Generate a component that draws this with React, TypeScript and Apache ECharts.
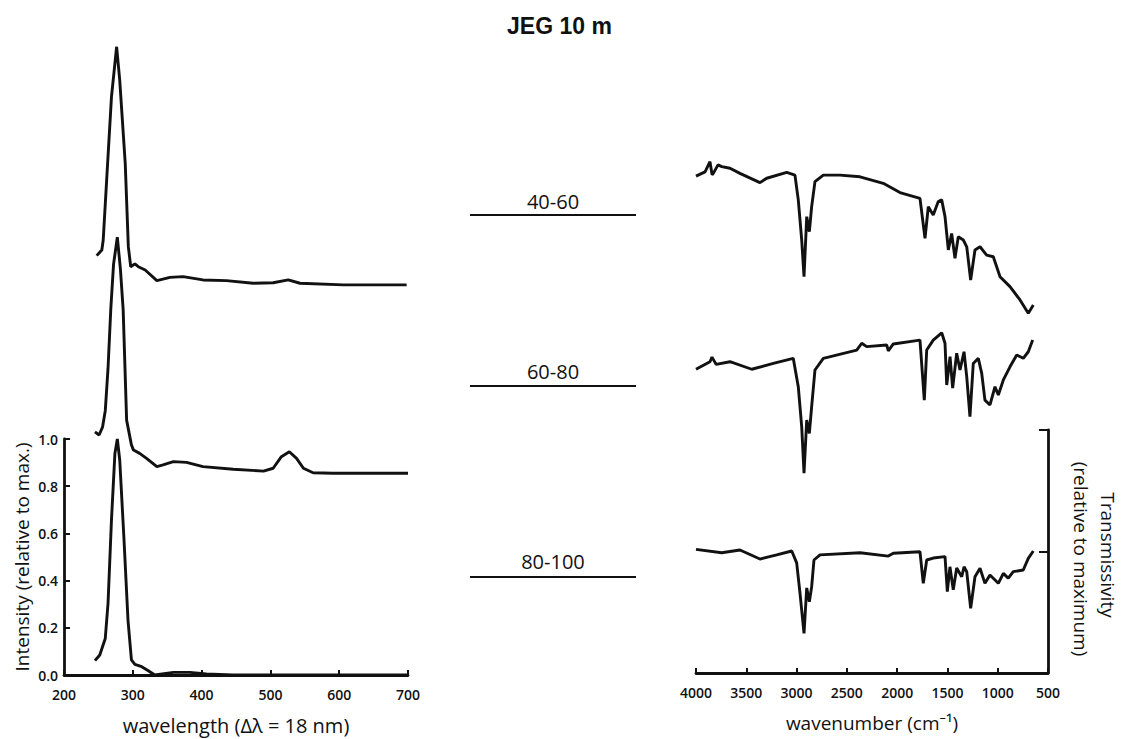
import React, { useEffect, useRef } from "react";
import * as echarts from "echarts";

// ---------- Fluorescence spectra (left panel), plotted with vertical offsets ----------
const flWl4060 = [247.5, 255, 257, 262, 269, 276.5, 281, 289, 293.5, 297, 303, 308, 318, 335, 354, 373, 402, 436, 475, 504, 526, 543, 606, 698];
const flVal4060 = [1.777, 1.801, 1.843, 2.097, 2.45, 2.662, 2.521, 2.168, 1.815, 1.73, 1.742, 1.73, 1.716, 1.671, 1.685, 1.688, 1.674, 1.671, 1.66, 1.662, 1.674, 1.66, 1.653, 1.653];

const flWl6080 = [245, 251, 256, 260, 264, 268, 272, 277.5, 282, 286, 291, 298, 301, 310, 320, 335, 344, 359, 378, 402, 446, 490, 504, 516, 527.5, 538, 548, 562, 591, 700];
const flVal6080 = [1.03, 1.017, 1.05, 1.12, 1.3, 1.55, 1.74, 1.855, 1.72, 1.547, 1.08, 0.975, 0.953, 0.939, 0.918, 0.883, 0.89, 0.904, 0.901, 0.883, 0.872, 0.864, 0.876, 0.925, 0.946, 0.918, 0.876, 0.857, 0.855, 0.855];

const flWl80100 = [245, 252, 260, 264, 269, 274, 277.5, 281, 287, 293, 298, 303, 313, 322.5, 332, 359, 383, 407, 445, 500, 600, 700];
const flVal80100 = [0.061, 0.085, 0.155, 0.304, 0.657, 0.939, 1.0, 0.911, 0.586, 0.233, 0.064, 0.045, 0.035, 0.018, 0.0, 0.011, 0.011, 0.004, 0.0, 0.0, 0.0, 0.0];

// ---------- IR spectra (right panel), plotted with vertical offsets ----------
const irWn4060 = [4000, 3910, 3861, 3840, 3828, 3781, 3744, 3662, 3563, 3364, 3297, 3098, 3016, 2983, 2949, 2926, 2899, 2873, 2850, 2817, 2734, 2568, 2369, 2138, 1972, 1773, 1723, 1690, 1641, 1591, 1557, 1524, 1491, 1458, 1425, 1392, 1342, 1308, 1269, 1226, 1176, 1110, 1044, 977, 878, 778, 696, 646];
const irVal4060 = [2.045, 2.062, 2.104, 2.05, 2.056, 2.091, 2.084, 2.077, 2.056, 2.018, 2.036, 2.06, 2.049, 1.947, 1.782, 1.631, 1.878, 1.816, 1.919, 2.022, 2.049, 2.049, 2.042, 2.015, 1.977, 1.953, 1.789, 1.919, 1.885, 1.94, 1.947, 1.878, 1.741, 1.809, 1.707, 1.795, 1.782, 1.754, 1.617, 1.741, 1.754, 1.72, 1.713, 1.631, 1.59, 1.535, 1.48, 1.514];

const irWn6080 = [4000, 3861, 3841, 3800, 3662, 3446, 3231, 3033, 2983, 2949, 2926, 2899, 2873, 2850, 2817, 2734, 2402, 2352, 2303, 2104, 2088, 2038, 1773, 1730, 1706, 1641, 1557, 1524, 1507, 1474, 1448, 1408, 1375, 1335, 1308, 1276, 1243, 1193, 1159, 1127, 1077, 1027, 994, 944, 878, 811, 746, 696, 652];
const irVal6080 = [1.25, 1.281, 1.3, 1.27, 1.281, 1.25, 1.274, 1.295, 1.178, 1.014, 0.822, 1.041, 0.986, 1.096, 1.247, 1.295, 1.329, 1.357, 1.343, 1.35, 1.326, 1.354, 1.37, 1.123, 1.329, 1.37, 1.4, 1.357, 1.185, 1.302, 1.172, 1.316, 1.247, 1.322, 1.219, 1.055, 1.274, 1.295, 1.233, 1.123, 1.103, 1.178, 1.144, 1.206, 1.26, 1.309, 1.295, 1.322, 1.37];

const irWn80100 = [4000, 3744, 3563, 3364, 3198, 3048, 2999, 2966, 2926, 2899, 2873, 2850, 2827, 2767, 2369, 2088, 2038, 1773, 1740, 1706, 1641, 1524, 1501, 1475, 1442, 1408, 1358, 1335, 1308, 1269, 1226, 1176, 1127, 1077, 994, 944, 895, 845, 746, 696, 646];
const irVal80100 = [0.509, 0.495, 0.506, 0.469, 0.486, 0.502, 0.453, 0.329, 0.163, 0.35, 0.293, 0.355, 0.465, 0.486, 0.495, 0.481, 0.493, 0.499, 0.369, 0.465, 0.473, 0.479, 0.335, 0.437, 0.342, 0.432, 0.396, 0.437, 0.417, 0.266, 0.396, 0.431, 0.369, 0.403, 0.369, 0.41, 0.39, 0.417, 0.424, 0.472, 0.502];

// ---------- Labels ----------
const fractionLabels = ["40-60", "60-80", "80-100"];
const flTicks = [200, 300, 400, 500, 600, 700];
const irTicks = [4000, 3500, 3000, 2500, 2000, 1500, 1000, 500];

const pairs = (xs: number[], ys: number[]) => xs.map((x, i) => [x, ys[i]]);

const INK = "#111";
const FONT = "'Open Sans', 'Noto Sans', sans-serif";

export default function App() {
  const ref = useRef<HTMLDivElement>(null);
  useEffect(() => {
    document.body.style.margin = "0";
    const chart = echarts.init(ref.current!, null, { renderer: "svg" });

    const lineSeries = (data: number[][], xi: number, yi: number) => ({
      type: "line",
      xAxisIndex: xi,
      yAxisIndex: yi,
      data,
      showSymbol: false,
      symbol: "none",
      clip: false,
      lineStyle: { color: INK, width: 2.9 },
      emphasis: { disabled: true },
    });

    const axisLabelStyle = { color: INK, fontFamily: FONT, fontSize: 14, fontWeight: 600 as any };
    const hiddenX = (gi: number, min: number, max: number, inverse = false) => ({
      type: "value", gridIndex: gi, min, max, inverse, show: false,
    });
    const hiddenY = (gi: number, max: number) => ({
      type: "value", gridIndex: gi, min: 0, max, show: false,
    });

    const labelY = [201, 371, 561];
    const lineY = [215, 386, 577];

    chart.setOption({
      animation: false,
      backgroundColor: "#fff",
      title: {
        text: "JEG 10 m",
        left: 502,
        top: 9,
        textStyle: { fontFamily: "'Liberation Sans', Arial, sans-serif", fontSize: 23, fontWeight: "bold", color: INK },
      },
      grid: [
        { left: 64, right: 721, top: 439, bottom: 64 },
        { left: 64, right: 721, top: 14.2, bottom: 64 },
        { left: 696, right: 81, top: 430, bottom: 66 },
        { left: 696, right: 81, top: 89.8, bottom: 66 },
      ],
      xAxis: [
        {
          type: "value", gridIndex: 0, min: flTicks[0], max: flTicks[flTicks.length - 1], interval: 100,
          axisLine: { show: true, onZero: false, lineStyle: { color: INK, width: 2.8 } },
          axisTick: { show: true, inside: true, length: 5, lineStyle: { color: INK, width: 2 } },
          axisLabel: { ...axisLabelStyle, margin: 12, formatter: (v: number) => String(v) },
          splitLine: { show: false },
          name: "wavelength (Δλ = 18 nm)",
          nameLocation: "middle",
          nameGap: 40,
          nameTextStyle: { color: INK, fontFamily: FONT, fontSize: 20 },
        },
        hiddenX(1, flTicks[0], flTicks[flTicks.length - 1]),
        {
          type: "value", gridIndex: 2, min: irTicks[irTicks.length - 1], max: irTicks[0], interval: 500, inverse: true,
          axisLine: { show: true, onZero: false, lineStyle: { color: INK, width: 2.8 } },
          axisTick: { show: true, inside: true, length: 5, lineStyle: { color: INK, width: 2 } },
          axisLabel: { ...axisLabelStyle, margin: 12, formatter: (v: number) => String(v) },
          splitLine: { show: false },
          name: "wavenumber (cm⁻¹)",
          nameLocation: "middle",
          nameGap: 40,
          nameTextStyle: { color: INK, fontFamily: FONT, fontSize: 19 },
        },
        hiddenX(3, irTicks[irTicks.length - 1], irTicks[0], true),
      ],
      yAxis: [
        {
          type: "value", gridIndex: 0, min: 0, max: 1, interval: 0.2,
          axisLine: { show: true, onZero: false, lineStyle: { color: INK, width: 2.8 } },
          axisTick: { show: true, inside: true, length: 6, lineStyle: { color: INK, width: 2 } },
          axisLabel: { ...axisLabelStyle, margin: 6, formatter: (v: number) => v.toFixed(1) },
          splitLine: { show: false },
          name: "Intensity (relative to max.)",
          nameLocation: "middle",
          nameGap: 33,
          nameTextStyle: { color: INK, fontFamily: FONT, fontSize: 19 },
        },
        hiddenY(1, 2.8),
        {
          type: "value", gridIndex: 2, position: "right", min: 0, max: 1, interval: 0.5,
          axisLine: { show: true, onZero: false, lineStyle: { color: INK, width: 2.8 } },
          axisTick: { show: true, inside: true, length: 9, lineStyle: { color: INK, width: 2 } },
          axisLabel: { show: false },
          splitLine: { show: false },
        },
        hiddenY(3, 2.4),
      ],
      graphic: [
        ...fractionLabels.map((t, i) => ({
          type: "text",
          x: 553,
          y: labelY[i],
          style: { text: t, fill: INK, font: `20px ${FONT}`, textAlign: "center", textVerticalAlign: "middle" },
        })),
        ...fractionLabels.map((_, i) => ({
          type: "line",
          shape: { x1: 470, y1: lineY[i], x2: 636, y2: lineY[i] },
          style: { stroke: INK, lineWidth: 2.2 },
        })),
        {
          type: "text",
          x: 1108,
          y: 555,
          rotation: -Math.PI / 2,
          style: { text: "Transmissivity", fill: INK, font: `19px ${FONT}`, textAlign: "center", textVerticalAlign: "middle" },
        },
        {
          type: "text",
          x: 1081,
          y: 559,
          rotation: -Math.PI / 2,
          style: { text: "(relative to maximum)", fill: INK, font: `19px ${FONT}`, textAlign: "center", textVerticalAlign: "middle" },
        },
      ],
      series: [
        lineSeries(pairs(flWl4060, flVal4060), 1, 1),
        lineSeries(pairs(flWl6080, flVal6080), 1, 1),
        lineSeries(pairs(flWl80100, flVal80100), 0, 0),
        lineSeries(pairs(irWn4060, irVal4060), 3, 3),
        lineSeries(pairs(irWn6080, irVal6080), 3, 3),
        lineSeries(pairs(irWn80100, irVal80100), 2, 2),
      ],
    });
    return () => chart.dispose();
  }, []);
  return <div ref={ref} style={{ width: 1129, height: 739 }} />;
}
